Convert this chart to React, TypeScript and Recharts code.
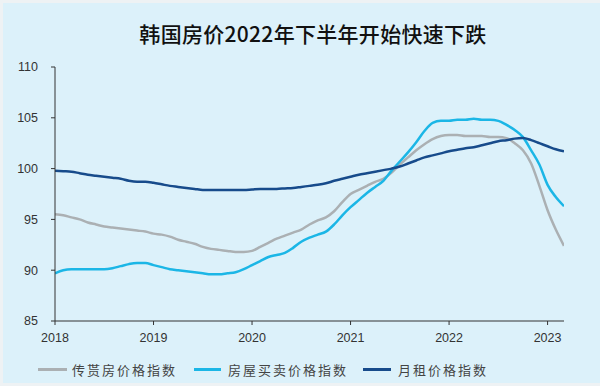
import { LineChart, Line, XAxis, YAxis } from "recharts";

// monthly index, 0 = Jan 2018
const jeonseIndex = [
  95.5, 95.4, 95.2, 95.0, 94.7, 94.5, 94.3, 94.2, 94.1, 94.0, 93.9, 93.8,
  93.6, 93.5, 93.3, 93.0, 92.8, 92.6, 92.3, 92.1, 92.0, 91.9, 91.8, 91.8,
  91.9, 92.3, 92.7, 93.1, 93.4, 93.7, 94.0, 94.5, 94.9, 95.2, 95.8, 96.7,
  97.5, 97.9, 98.3, 98.7, 99.0, 99.6, 100.4, 101.1, 101.8, 102.4, 102.9, 103.2,
  103.3, 103.3, 103.2, 103.2, 103.2, 103.1, 103.1, 103.0, 102.5, 101.8, 100.5, 98.3,
  95.9, 94.0, 92.4,
];

const saleIndex = [
  89.7, 90.0, 90.1, 90.1, 90.1, 90.1, 90.1, 90.2, 90.4, 90.6, 90.7, 90.7,
  90.5, 90.3, 90.1, 90.0, 89.9, 89.8, 89.7, 89.6, 89.6, 89.7, 89.8, 90.1,
  90.5, 90.9, 91.3, 91.5, 91.7, 92.2, 92.8, 93.2, 93.5, 93.8, 94.5, 95.4,
  96.2, 96.9, 97.6, 98.2, 98.8, 99.8, 100.7, 101.6, 102.6, 103.7, 104.5, 104.7,
  104.7, 104.8, 104.8, 104.9, 104.8, 104.8, 104.7, 104.3, 103.8, 103.1, 101.8, 100.4,
  98.4, 97.2, 96.3,
];

const rentIndex = [
  99.8, 99.75, 99.7, 99.55, 99.4, 99.3, 99.2, 99.1, 99.0, 98.8, 98.7, 98.7,
  98.6, 98.45, 98.3, 98.2, 98.1, 98.0, 97.9, 97.9, 97.9, 97.9, 97.9, 97.9,
  97.95, 98.0, 98.0, 98.0, 98.05, 98.1, 98.2, 98.3, 98.4, 98.55, 98.8, 99.0,
  99.2, 99.4, 99.55, 99.7, 99.85, 100.0, 100.2, 100.5, 100.8, 101.1, 101.3, 101.5,
  101.7, 101.85, 102.0, 102.1, 102.3, 102.5, 102.7, 102.8, 102.95, 103.0, 102.8, 102.5,
  102.2, 101.9, 101.7,
];

const yearTicks = [0, 12, 24, 36, 48, 60];
const valueTicks = [85, 90, 95, 100, 105, 110];

const seriesNames = ["传贳房价格指数", "房屋买卖价格指数", "月租价格指数"];
const seriesColors = ["#abb0b3", "#1bb6e6", "#174b8b"];

const data = saleIndex.map((_, i) => ({
  m: i,
  jeonse: jeonseIndex[i],
  sale: saleIndex[i],
  rent: rentIndex[i],
}));

const legendPos = [
  { line: 38, w: 29, text: 72 },
  { line: 194, w: 27, text: 228 },
  { line: 363, w: 28, text: 398 },
];

export default function App() {
  const tickStyle = { fontSize: 12.5, fill: "#333", fontFamily: "Liberation Sans, Arial, sans-serif" };
  return (
    <div style={{ position: "absolute", left: 0, top: 0, width: 600, height: 386, background: "#eef2f4" }}>
      <div style={{ position: "absolute", left: 3, top: 3, width: 597, height: 380, background: "#dcf1fa" }} />
      <div
        style={{
          position: "absolute",
          left: 0,
          width: 626,
          top: 19,
          textAlign: "center",
          fontFamily: "Noto Sans CJK SC",
          fontSize: 21,
          fontWeight: 500,
          letterSpacing: 0.3,
          color: "#111",
          lineHeight: "28px",
        }}
      >
        韩国房价2022年下半年开始快速下跌
      </div>
      <div style={{ position: "absolute", left: 0, top: 0 }}>
        <LineChart width={600} height={386} data={data} margin={{ top: 67, right: 36, left: 0, bottom: 35 }}>
          <XAxis
            dataKey="m"
            type="number"
            domain={[0, 62]}
            ticks={yearTicks}
            tickFormatter={(v: number) => String(2018 + v / 12)}
            tick={tickStyle}
            tickSize={4}
            tickMargin={8}
            height={30}
            stroke="#333"
            allowDataOverflow
          />
          <YAxis
            domain={[85, 110]}
            ticks={valueTicks}
            tick={tickStyle}
            tickSize={4}
            tickMargin={13}
            width={55}
            stroke="#333"
            allowDataOverflow
          />
          <Line type="monotone" dataKey="jeonse" stroke={seriesColors[0]} strokeWidth={2.5} dot={false} isAnimationActive={false} />
          <Line type="monotone" dataKey="sale" stroke={seriesColors[1]} strokeWidth={2.5} dot={false} isAnimationActive={false} />
          <Line type="monotone" dataKey="rent" stroke={seriesColors[2]} strokeWidth={2.5} dot={false} isAnimationActive={false} />
        </LineChart>
      </div>
      {seriesNames.map((name, i) => (
        <div key={name}>
          <div
            style={{
              position: "absolute",
              left: legendPos[i].line,
              top: 368,
              width: legendPos[i].w,
              height: 3,
              background: seriesColors[i],
            }}
          />
          <div
            style={{
              position: "absolute",
              left: legendPos[i].text,
              top: 360,
              fontFamily: "Noto Sans CJK SC",
              fontSize: 13,
              letterSpacing: 2,
              color: "#444",
              lineHeight: "20px",
              whiteSpace: "nowrap",
            }}
          >
            {name}
          </div>
        </div>
      ))}
    </div>
  );
}
